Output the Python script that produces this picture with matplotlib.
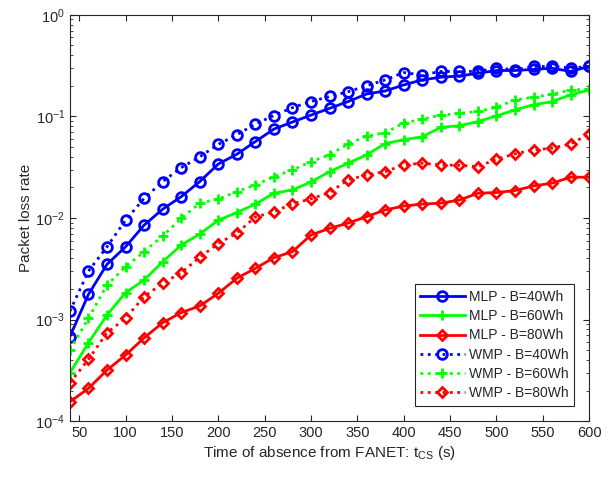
import matplotlib
matplotlib.use('Agg')
import matplotlib.pyplot as plt
import numpy as np

# Data
t_cs = list(range(40, 601, 20))

mlp_40 = [6.8e-4, 1.77e-3, 3.5e-3, 5.2e-3, 8.5e-3, 1.22e-2, 1.62e-2, 2.28e-2, 3.4e-2, 4.24e-2,
          5.65e-2, 7.5e-2, 8.8e-2, 0.103, 0.12, 0.14, 0.166, 0.178, 0.204, 0.229,
          0.243, 0.25, 0.266, 0.283, 0.283, 0.29, 0.298, 0.277, 0.31]
mlp_60 = [2.99e-4, 5.9e-4, 1.11e-3, 1.84e-3, 2.45e-3, 3.7e-3, 5.4e-3, 6.95e-3, 9.5e-3, 1.13e-2,
          1.37e-2, 1.75e-2, 1.89e-2, 2.26e-2, 2.86e-2, 3.46e-2, 4.18e-2, 5.4e-2, 5.9e-2, 6.3e-2,
          7.8e-2, 8.1e-2, 8.9e-2, 0.101, 0.116, 0.13, 0.14, 0.163, 0.182]
mlp_80 = [1.55e-4, 2.1e-4, 3.18e-4, 4.47e-4, 6.6e-4, 9.3e-4, 1.17e-3, 1.36e-3, 1.81e-3, 2.55e-3,
          3.19e-3, 4.06e-3, 4.66e-3, 6.8e-3, 7.9e-3, 8.9e-3, 1.03e-2, 1.2e-2, 1.31e-2, 1.37e-2,
          1.4e-2, 1.5e-2, 1.75e-2, 1.78e-2, 1.86e-2, 2.07e-2, 2.2e-2, 2.52e-2, 2.52e-2]
wmp_40 = [1.21e-3, 3.0e-3, 5.2e-3, 9.5e-3, 1.56e-2, 2.28e-2, 3.13e-2, 4.0e-2, 5.3e-2, 6.6e-2,
          8.4e-2, 0.102, 0.122, 0.14, 0.157, 0.175, 0.2, 0.229, 0.27, 0.256,
          0.277, 0.277, 0.277, 0.3, 0.287, 0.31, 0.31, 0.3, 0.31]
wmp_60 = [5.0e-4, 1.03e-3, 2.19e-3, 3.3e-3, 4.66e-3, 6.65e-3, 9.9e-3, 1.4e-2, 1.53e-2, 1.82e-2,
          2.11e-2, 2.55e-2, 2.97e-2, 3.59e-2, 4.18e-2, 5.36e-2, 6.4e-2, 6.9e-2, 8.6e-2, 9.4e-2,
          0.103, 0.107, 0.112, 0.123, 0.145, 0.155, 0.165, 0.182, 0.185]
wmp_80 = [2.38e-4, 4.06e-4, 7.4e-4, 1.03e-3, 1.68e-3, 2.27e-3, 2.89e-3, 4.1e-3, 5.6e-3, 7.1e-3,
          1.02e-2, 1.15e-2, 1.38e-2, 1.54e-2, 1.78e-2, 2.37e-2, 2.65e-2, 2.86e-2, 3.33e-2, 3.46e-2,
          3.33e-2, 3.3e-2, 3.2e-2, 3.79e-2, 4.27e-2, 4.68e-2, 4.86e-2, 5.36e-2, 6.7e-2]

series = [
    ('MLP - B=40Wh', mlp_40, '#0000ff', 'o', '-'),
    ('MLP - B=60Wh', mlp_60, '#00ff00', '+', '-'),
    ('MLP - B=80Wh', mlp_80, '#ff0000', 'D', '-'),
    ('WMP - B=40Wh', wmp_40, '#0000ff', 'o', ':'),
    ('WMP - B=60Wh', wmp_60, '#00ff00', '+', ':'),
    ('WMP - B=80Wh', wmp_80, '#ff0000', 'D', ':'),
]

xticks = list(range(50, 601, 50))

txt = '#262626'
plt.rcParams['font.family'] = ['Liberation Sans', 'DejaVu Sans']
plt.rcParams['mathtext.fontset'] = 'custom'
plt.rcParams['mathtext.rm'] = 'Liberation Sans'
plt.rcParams['mathtext.it'] = 'Liberation Sans'

fig = plt.figure(figsize=(6.08, 4.78), dpi=100)
ax = fig.add_axes([0.115, 0.119, 0.854, 0.850])

for label, vals, col, mk, ls in series:
    ms = 5.5 if mk == 'D' else 7
    ax.plot(t_cs, vals, color=col, marker=mk, linestyle=ls, linewidth=2,
            markersize=ms, markerfacecolor='none', markeredgewidth=2, label=label)

ax.set_yscale('log')
ax.set_xlim(40, 600)
ax.set_ylim(1e-4, 1)
ax.set_xticks(xticks)
ax.tick_params(which='both', direction='in', top=True, right=True, colors=txt,
               labelsize=10.5)
ax.tick_params(which='major', length=4)
ax.tick_params(which='minor', length=2)
for s in ax.spines.values():
    s.set_color(txt)
    s.set_linewidth(0.8)

ax.set_xlabel('Time of absence from FANET: t$_{\\mathrm{CS}}$ (s)', fontsize=11, color=txt, labelpad=3)
ax.set_ylabel('Packet loss rate', fontsize=11, color=txt, labelpad=2)

leg = ax.legend(loc='lower right', fontsize=10, frameon=True, fancybox=False,
                edgecolor=txt, framealpha=1, borderaxespad=1.1, handlelength=3.2,
                handletextpad=0.3, labelspacing=0.38, borderpad=0.4)
leg.get_frame().set_linewidth(0.8)
for t in leg.get_texts():
    t.set_color(txt)

fig.savefig('out.png', dpi=100)
